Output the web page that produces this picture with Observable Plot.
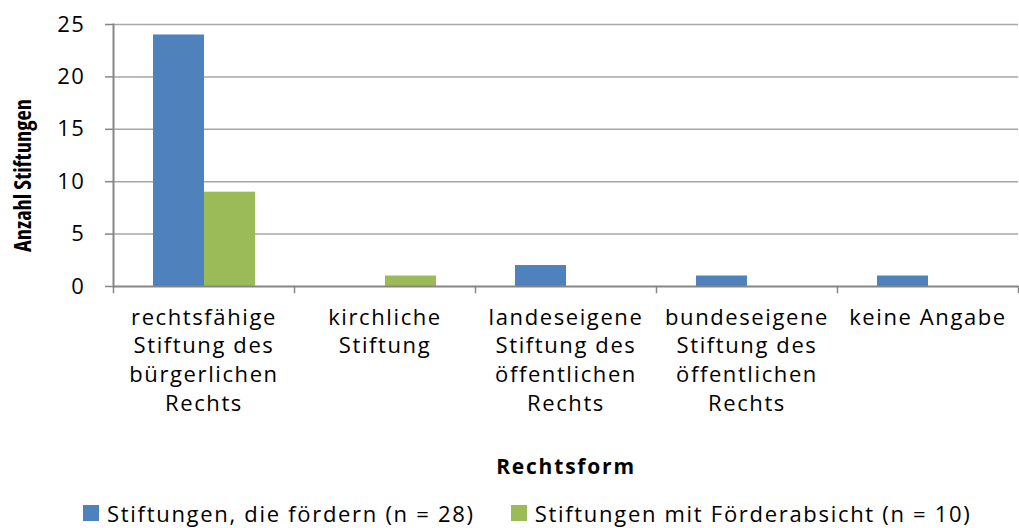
<!DOCTYPE html>
<html>
<head>
<meta charset="utf-8">
<script src="https://cdn.jsdelivr.net/npm/d3@7"></script>
<script src="https://cdn.jsdelivr.net/npm/@observablehq/plot@0.6"></script>
<style>
  html, body { margin: 0; padding: 0; background: #fff; }
  #chart svg text { letter-spacing: 1.6px; }
  #legend { display: flex; align-items: center; height: 38px; padding-top: 4px; padding-left: 83px;
    font-family: "Open Sans", sans-serif; font-size: 22px; letter-spacing: 1.7px; color: #000; }
  .item { display: flex; align-items: center; margin-right: 36px; }
  .sw { width: 16px; height: 16px; margin-right: 8px; }
</style>
</head>
<body>
<div id="chart"></div>
<div id="legend"></div>
<script>
const categories = [
  "rechtsfähige Stiftung des bürgerlichen Rechts",
  "kirchliche Stiftung",
  "landeseigene Stiftung des öffentlichen Rechts",
  "bundeseigene Stiftung des öffentlichen Rechts",
  "keine Angabe"
];
const categoryLabels = [
  "rechtsfähige\nStiftung des\nbürgerlichen\nRechts",
  "kirchliche\nStiftung",
  "landeseigene\nStiftung des\nöffentlichen\nRechts",
  "bundeseigene\nStiftung des\nöffentlichen\nRechts",
  "keine Angabe"
];
const series = ["Stiftungen, die fördern (n = 28)", "Stiftungen mit Förderabsicht (n = 10)"];
const foerdern = [24, 0, 2, 1, 1];
const absicht = [9, 1, 0, 0, 0];
const yTicks = [0, 5, 10, 15, 20, 25];
const colors = ["#4F81BD", "#9BBB59"];
const yTitle = "Anzahl Stiftungen";
const xTitle = "Rechtsform";

const rows = categories.flatMap((c, i) => [
  {category: c, series: series[0], value: foerdern[i]},
  {category: c, series: series[1], value: absicht[i]}
]);
const labelMap = new Map(categories.map((c, i) => [c, categoryLabels[i]]));

const axisColor = "#868686";
const gridColor = "#a6a6a6";
const labelFont = "'Open Sans', sans-serif";

const chart = Plot.plot({
  width: 1019,
  height: 490,
  marginTop: 24,
  marginBottom: 204,
  marginLeft: 113,
  marginRight: 1,
  style: {fontFamily: labelFont, color: "#000", background: "#fff"},
  fx: {domain: categories, padding: 0, axis: null},
  x: {domain: series, paddingInner: 0, paddingOuter: 0.757, axis: null},
  y: {domain: [0, 25], axis: null},
  color: {domain: series, range: colors},
  marks: [
    Plot.gridY(yTicks.filter(d => d > 0), {stroke: gridColor, strokeOpacity: 1, strokeWidth: 1.5}),
    Plot.barY(rows, {fx: "category", x: "series", y: "value", fill: "series"}),
    Plot.ruleY([0], {stroke: axisColor, strokeWidth: 2}),
    Plot.frame({anchor: "left", facetAnchor: "left", stroke: axisColor, strokeWidth: 2}),
    Plot.frame({anchor: "left", insetTop: 262, insetBottom: -6, stroke: axisColor, strokeWidth: 1.5}),
    Plot.frame({anchor: "right", facetAnchor: "right", insetTop: 262, insetBottom: -6, stroke: axisColor, strokeWidth: 1.5}),
    Plot.axisY({ticks: yTicks, tickSize: 8, tickPadding: 20, fontSize: 22, label: null, stroke: axisColor, fill: "#000", strokeWidth: 1.5}),
    Plot.axisFx({anchor: "bottom", tickSize: 0, tickPadding: 18, fontSize: 22, lineHeight: 1.3,
      tickFormat: d => labelMap.get(d), label: null, fill: "#000"}),
    Plot.text([yTitle], {frameAnchor: "left", facetAnchor: "left", textAnchor: "middle", rotate: -90, dx: -90, dy: 20,
      fontWeight: "bold", fontSize: 22.5, fill: "#000"}),
    Plot.text([xTitle], {fx: () => categories[2], frameAnchor: "bottom", lineAnchor: "middle", dy: 181,
      fontWeight: "bold", fontSize: 21, fill: "#000"})
  ]
});
document.getElementById("chart").appendChild(chart);

// label typography tweaks (reference glyphs are horizontally stretched / condensed)
d3.select(chart).selectAll("text")
  .filter(function() { return this.textContent === yTitle; })
  .style("letter-spacing", "0px").style("font-stretch", "condensed");
d3.select(chart).selectAll("text")
  .filter(function() { return this.textContent === xTitle; })
  .style("letter-spacing", "1.8px");

const legend = document.getElementById("legend");
series.forEach((s, i) => {
  const item = document.createElement("div");
  item.className = "item";
  const sw = document.createElement("div");
  sw.className = "sw";
  sw.style.background = colors[i];
  const t = document.createElement("span");
  t.textContent = s;
  item.appendChild(sw);
  item.appendChild(t);
  legend.appendChild(item);
});
</script>
</body>
</html>
